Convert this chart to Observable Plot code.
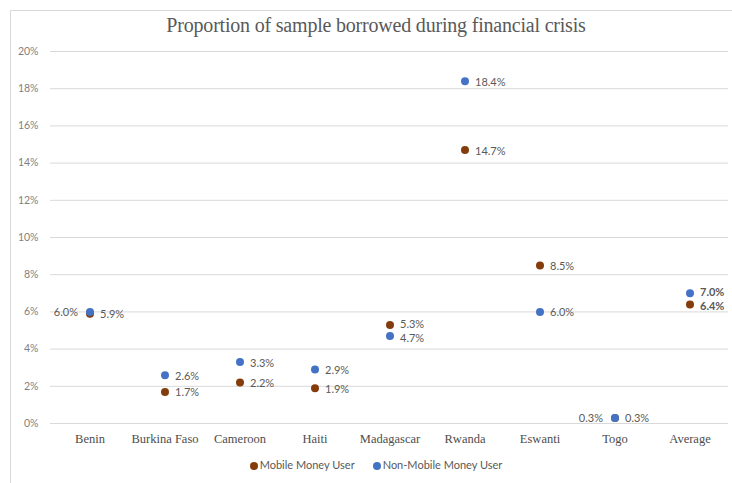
<!DOCTYPE html>
<html>
<head>
<meta charset="utf-8">
<script src="https://cdn.jsdelivr.net/npm/d3@7"></script>
<script src="https://cdn.jsdelivr.net/npm/@observablehq/plot@0.6"></script>
<style>
  body { margin: 0; background: #fff; width: 732px; height: 483px; overflow: hidden; position: relative; font-family: Lato, sans-serif; }
  #frame { position: absolute; left: 10px; top: 10px; width: 760px; height: 520px; border: 1px solid #d9d9d9; box-sizing: border-box; }
  #title { position: absolute; top: 14px; left: 10px; width: 732px; text-align: center; font-family: "Liberation Serif", serif; font-size: 20px; color: #595959; line-height: 22px; letter-spacing: -0.2px; }
  #chart { position: absolute; top: 40px; left: 0; }
  #legend { position: absolute; top: 457px; left: 10px; width: 732px; display: flex; justify-content: center; gap: 18px; font-size: 11px; color: #595959; line-height: 16px; }
  #legend span.sw { display: inline-block; width: 8px; height: 8px; border-radius: 50%; margin-right: 2px; vertical-align: -0.5px; }
</style>
</head>
<body>
<div id="frame"></div>
<div id="title">Proportion of sample borrowed during financial crisis</div>
<div id="chart"></div>
<div id="legend"></div>
<script>
// Share of respondents who borrowed during a financial crisis, by country
const countries = ["Benin", "Burkina Faso", "Cameroon", "Haiti", "Madagascar", "Rwanda", "Eswanti", "Togo", "Average"];
const mobileUser = [0.059, 0.017, 0.022, 0.019, 0.053, 0.147, 0.085, 0.003, 0.064];
const nonMobileUser = [0.060, 0.026, 0.033, 0.029, 0.047, 0.184, 0.060, 0.003, 0.070];
const seriesNames = ["Mobile Money User", "Non-Mobile Money User"];
const seriesColors = ["#843c0c", "#4472c4"];
const yTicks = [0, 0.02, 0.04, 0.06, 0.08, 0.10, 0.12, 0.14, 0.16, 0.18, 0.20];

// Labels placed to the left of the dot where two labels would collide
const leftSide = new Set(["Benin|Non-Mobile Money User", "Togo|Mobile Money User"]);

const rows = [];
countries.forEach((c, i) => {
  const a = mobileUser[i], b = nonMobileUser[i];
  // nudge the two labels of a tight pair slightly apart vertically
  const close = Math.abs(a - b) > 0.002 && Math.abs(a - b) < 0.008;
  rows.push({country: c, series: seriesNames[0], value: a, nudge: close ? (a > b ? -1 : 1) : 0});
  rows.push({country: c, series: seriesNames[1], value: b, nudge: close ? (b > a ? -1 : 1) : 0});
});
const isLeft = d => leftSide.has(d.country + "|" + d.series);
const fmt = d3.format(".1%");
const avg = d => d.country === "Average";

const labelMark = (data, anchor, dx, weight, nudge) => Plot.text(data, {
  x: "country", y: "value", text: d => fmt(d.value),
  textAnchor: anchor, dx, dy: 1 + nudge, fill: "#595959",
  fontSize: 11, fontFamily: "Lato, sans-serif", fontWeight: weight
});

const labelMarks = [];
for (const n of [-1, 0, 1]) {
  const part = rows.filter(d => d.nudge === n);
  labelMarks.push(
    labelMark(part.filter(d => !isLeft(d) && !avg(d)), "start", 10, "normal", n * 1.5),
    labelMark(part.filter(d => isLeft(d) && !avg(d)), "end", -12, "normal", n * 1.5),
    labelMark(part.filter(d => avg(d)), "start", 10, "bold", n * 1.5)
  );
}

const chart = Plot.plot({
  width: 732,
  height: 410,
  marginTop: 11,
  marginBottom: 27,
  marginLeft: 50,
  marginRight: 4,
  style: { background: "transparent", overflow: "visible" },
  x: { type: "band", domain: countries, padding: 0, label: null },
  y: { domain: [0, 0.2], label: null },
  color: { domain: seriesNames, range: seriesColors },
  marks: [
    Plot.ruleY(yTicks, { stroke: "#d9d9d9", strokeWidth: 1 }),
    Plot.axisY({ ticks: yTicks, tickFormat: d3.format(".0%"), tickSize: 0, tickPadding: 12,
      fill: "#7f7f7f", fontSize: 10.5, fontFamily: "Lato, sans-serif", label: null }),
    Plot.axisX({ tickSize: 0, tickPadding: 11, fill: "#4d4d4d", fontSize: 12.5,
      fontFamily: "Liberation Serif, serif", label: null }),
    Plot.dot(rows, { x: "country", y: "value", fill: "series", r: 4 }),
    ...labelMarks
  ]
});
document.getElementById("chart").appendChild(chart);

const legend = document.getElementById("legend");
seriesNames.forEach((name, i) => {
  const item = document.createElement("div");
  item.innerHTML = `<span class="sw" style="background:${seriesColors[i]}"></span>${name}`;
  legend.appendChild(item);
});
</script>
</body>
</html>
